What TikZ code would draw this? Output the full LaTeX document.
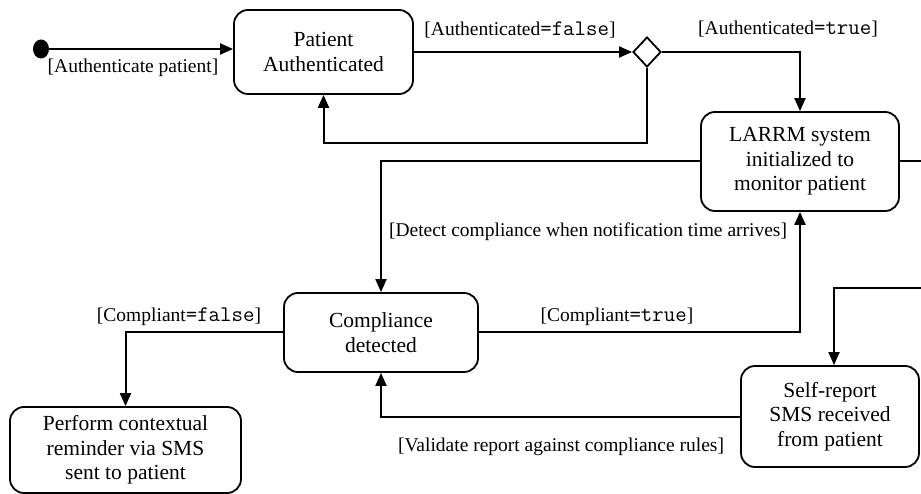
\documentclass[tikz,border=0pt]{standalone}
\usepackage{fontspec}
\setmainfont{Liberation Serif}
\setmonofont[Scale=1.14]{Latin Modern Mono}
\usetikzlibrary{arrows.meta,shapes.geometric}
\begin{document}
\begin{tikzpicture}[x=1pt,y=-1pt,
  state/.style={draw, line width=1.8pt, rounded corners=14pt, align=center,
    font=\fontsize{21.5}{24.5}\selectfont, inner sep=0pt},
  lbl/.style={font=\fontsize{19.5}{22}\selectfont, inner sep=0pt},
  conn/.style={line width=2pt, -{Triangle[length=13pt,width=11pt]}}]
\useasboundingbox (0,0) rectangle (921,494);
\clip (0,0) rectangle (921,494);
% nodes
\node[ellipse, fill, minimum width=16pt, minimum height=19pt, inner sep=0pt] (init) at (41,49) {};
\node[state, minimum width=179pt, minimum height=84pt] (pa) at (323.5,52) {Patient\\Authenticated};
\node[draw, diamond, aspect=1, line width=1.8pt, minimum width=28pt, minimum height=30pt, inner sep=0pt] (dec) at (647,52) {};
\node[state, minimum width=198pt, minimum height=99pt] (larrm) at (800,161.5) {LARRM system\\initialized to\\monitor patient};
\node[state, minimum width=194pt, minimum height=79pt] (comp) at (381,332.5) {Compliance\\detected};
\node[state, minimum width=231pt, minimum height=86pt] (perf) at (125.5,450) {Perform contextual\\reminder via SMS\\sent to patient};
\node[state, minimum width=178pt, minimum height=101pt] (self) at (830,416.5) {Self-report\\SMS received\\from patient};
% free corners
\coordinate (c1) at (647,143);
\coordinate (r1) at (960,161.5);
\coordinate (r2) at (960,288);
\coordinate (r3) at (834,288);
% connectors
\draw[conn] (init.center) -- (init -| pa.west);
\draw[conn] (pa.east) -- (dec.west);
\draw[conn] (dec.east) -| (larrm.north);
\draw[conn] (dec.south) -- (c1) -| (pa.south);
\draw[conn] (larrm.west) -| (comp.north);
\draw[conn] (comp.east) -| (larrm.south);
\draw[conn] (comp.west) -| (perf.north);
\draw[conn] (self.west) -| (comp.south);
\draw[conn] (larrm.east) -- (r1) -- (r2) -- (r3) -- (r3 |- self.north);
% labels
\node[lbl] (l1) at (133,68) {[Authenticate patient]};
\node[lbl] (l2) at (520,30) {[Authenticated\texttt{=false}]};
\node[lbl] (l3) at (788,29) {[Authenticated\texttt{=true}]};
\node[lbl] (l4) at (588,232) {[Detect compliance when notification time arrives]};
\node[lbl] (l5) at (617,317) {[Compliant\texttt{=true}]};
\node[lbl] (l6) at (179,317) {[Compliant\texttt{=false}]};
\node[lbl] (l7) at (561,447) {[Validate report against compliance rules]};
\end{tikzpicture}
\end{document}
